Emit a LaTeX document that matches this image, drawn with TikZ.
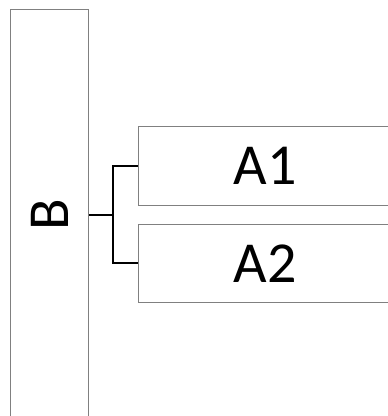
\documentclass[tikz,border=0pt]{standalone}
\usepackage{fontspec}
\setmainfont{Carlito}
\definecolor{boxgray}{RGB}{128,128,128}
\begin{document}
\begin{tikzpicture}[x=1pt,y=-1pt,
  box/.style={draw=boxgray, line width=1pt, rectangle, inner sep=0pt, font=\fontsize{58}{60}\selectfont},
  link/.style={draw=black, line width=2pt}]
\useasboundingbox (0,0) rectangle (388,416);
\clip (0,0) rectangle (388,416);
\node[box, minimum width=78pt, minimum height=411pt] (B) at (49.5,215) {\rotatebox{90}{B}};
\node[box, minimum width=254pt, minimum height=79pt] (A1) at (265,165.5) {A1};
\node[box, minimum width=254pt, minimum height=78pt] (A2) at (265,263.3) {A2};
\coordinate (m) at (113,215);
\draw[link] (B.east) -- (m);
\draw[link] (A1.west) -- (m |- A1.west) -- (m |- A2.west) -- (A2.west);
\end{tikzpicture}
\end{document}
